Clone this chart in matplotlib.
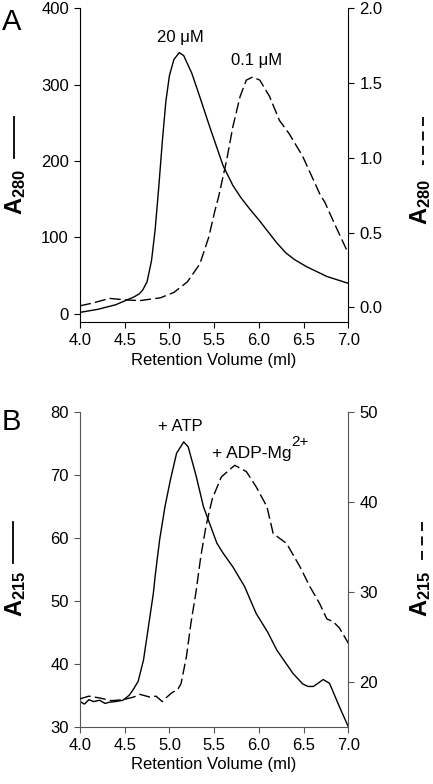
import matplotlib
matplotlib.use('Agg')
import matplotlib.pyplot as plt
from matplotlib.lines import Line2D

plt.rcParams['font.family'] = ['Liberation Sans', 'DejaVu Sans']
plt.rcParams['mathtext.fontset'] = 'custom'
plt.rcParams['mathtext.rm'] = 'Liberation Sans'
plt.rcParams['mathtext.bf'] = 'Liberation Sans:bold'
plt.rcParams['mathtext.it'] = 'Liberation Sans:italic'

# panel A, solid trace (20 uM, left axis)
a_solid_x = [4.0, 4.2, 4.4, 4.5, 4.6, 4.66, 4.70, 4.75, 4.80, 4.84, 4.88, 4.92, 4.96,
             5.00, 5.05, 5.11, 5.16, 5.25, 5.34, 5.45, 5.60, 5.71, 5.80, 5.90, 6.0, 6.1,
             6.2, 6.3, 6.4, 6.53, 6.76, 7.0]
a_solid_y = [2, 6, 12, 17, 22, 26, 31, 42, 70, 110, 165, 225, 278,
             312, 333, 342, 338, 315, 284, 245, 194, 168, 152, 137, 123, 108,
             93, 80, 71, 62, 49, 40]

# panel A, dashed trace (0.1 uM, right axis)
a_dash_x = [4.0, 4.15, 4.33, 4.5, 4.67, 4.9, 5.05, 5.2, 5.34, 5.44, 5.51, 5.55, 5.64, 5.71,
            5.79, 5.86, 5.93, 6.01, 6.12, 6.23, 6.34, 6.49, 6.68, 6.74, 6.83, 7.0]
a_dash_y = [0.01, 0.03, 0.06, 0.05, 0.045, 0.064, 0.10, 0.17, 0.29, 0.47, 0.65, 0.74, 0.985, 1.21,
            1.41, 1.52, 1.54, 1.52, 1.41, 1.25, 1.16, 1.01, 0.76, 0.70, 0.58, 0.36]

# panel B, solid trace (+ ATP, left axis)
b_solid_x = [4.0, 4.05, 4.1, 4.15, 4.22, 4.28, 4.33, 4.4, 4.48, 4.55, 4.59, 4.65, 4.71, 4.76,
             4.82, 4.84, 4.89, 4.95, 5.01, 5.08, 5.16, 5.21, 5.30, 5.38, 5.45, 5.53, 5.60,
             5.71, 5.84, 5.97, 6.1, 6.20, 6.38, 6.49, 6.55, 6.61, 6.67, 6.72, 6.79, 6.90, 7.0]
b_solid_y = [34.0, 33.6, 34.3, 34.0, 34.2, 33.7, 33.9, 34.0, 34.2, 35.0, 35.8, 37.2, 40.6, 45.4,
             51.2, 53.9, 59.7, 65.0, 69.2, 73.5, 75.3, 74.5, 69.8, 65.0, 62.3, 59.2, 57.6,
             55.4, 52.3, 48.0, 45.0, 42.2, 38.5, 36.8, 36.4, 36.4, 37.0, 37.5, 36.9, 33.2, 30.0]

# panel B, dashed trace (+ ADP-Mg2+, right axis)
b_dash_x = [4.0, 4.1, 4.22, 4.35, 4.48, 4.6, 4.67, 4.78, 4.85, 4.92, 4.96, 5.03, 5.09, 5.13,
            5.19, 5.24, 5.30, 5.35, 5.41, 5.48, 5.58, 5.73, 5.86, 5.97, 6.09, 6.16, 6.31,
            6.46, 6.57, 6.68, 6.76, 6.83, 6.90, 7.0]
b_dash_y = [18.1, 18.4, 18.2, 17.9, 18.0, 18.3, 18.6, 18.3, 18.4, 17.8, 18.2, 18.8, 19.1, 19.8,
            22.8, 26.5, 30.2, 33.9, 37.4, 40.4, 42.8, 44.1, 43.4, 41.7, 39.5, 36.5, 35.4,
            32.8, 30.6, 28.7, 27.0, 26.7, 26.0, 24.3]

x_ticks = [4.0, 4.5, 5.0, 5.5, 6.0, 6.5, 7.0]

fig = plt.figure(figsize=(4.33, 7.84), dpi=100)

W, H = 433.0, 784.0


def make_panel(bottom_px, top_px, left_lim, left_ticks, right_lim, right_ticks,
               sx, sy, dx, dy, spine_col):
    ax = fig.add_axes([80 / W, 1 - bottom_px / H, 268.3 / W, (bottom_px - top_px) / H])
    ax2 = ax.twinx()
    ax.plot(sx, sy, color='black', lw=1.0)
    ax2.plot(dx, dy, color='black', lw=1.0, dashes=(8, 3))
    ax.set_xlim(4.0, 7.0)
    ax.set_ylim(*left_lim)
    ax2.set_ylim(*right_lim)
    ax.set_xticks(x_ticks)
    ax.set_xticklabels(['%.1f' % t for t in x_ticks])
    ax.set_yticks(left_ticks)
    ax2.set_yticks(right_ticks)
    for a in (ax, ax2):
        a.spines['top'].set_visible(False)
        a.tick_params(direction='out', length=4, width=0.8, labelsize=12,
                      colors=spine_col, labelcolor='black', pad=4)
    ax.spines['right'].set_visible(False)
    ax2.spines['left'].set_visible(False)
    ax2.spines['bottom'].set_visible(False)
    ax.spines['left'].set_color(spine_col)
    ax.spines['bottom'].set_color(spine_col)
    ax2.spines['right'].set_color(spine_col)
    ax.set_xlabel('Retention Volume (ml)', fontsize=12, labelpad=3)
    return ax, ax2


axA, axA2 = make_panel(322.3, 8.3, (-11, 400), [0, 100, 200, 300, 400],
                       (-0.1, 2.0), [0.0, 0.5, 1.0, 1.5, 2.0],
                       a_solid_x, a_solid_y, a_dash_x, a_dash_y, 'black')
axA2.set_yticklabels(['0.0', '0.5', '1.0', '1.5', '2.0'])
axA.text(5.12, 352, '20 \u03bcM', ha='center', va='bottom', fontsize=12)
axA2.text(5.97, 1.6, '0.1 \u03bcM', ha='center', va='bottom', fontsize=12)

axB, axB2 = make_panel(726.7, 412.3, (30, 80), [30, 40, 50, 60, 70, 80],
                       (15, 50), [20, 30, 40, 50],
                       b_solid_x, b_solid_y, b_dash_x, b_dash_y, '#555555')
axB.text(5.12, 76.5, '+ ATP', ha='center', va='bottom', fontsize=12)
axB2.text(5.48, 44.9, '+ ADP-Mg', ha='left', va='baseline', fontsize=12.5)
axB2.text(6.36, 46.3, '2+', ha='left', va='baseline', fontsize=11)

# panel letters
fig.text(2 / W, 1 - 8 / H, 'A', fontsize=21, ha='left', va='top')
fig.text(2 / W, 1 - 408 / H, 'B', fontsize=21, ha='left', va='top')

# axis labels with line-style keys
def ylab(xpx, ypx, txt):
    fig.text(xpx / W, 1 - ypx / H, txt, rotation=90, ha='center', va='center',
             fontsize=17, fontweight='bold')

ylab(16, 192, r'$\mathbf{A_{280}}$')
ylab(421, 202, r'$\mathbf{A_{280}}$')
ylab(16, 594, r'$\mathbf{A_{215}}$')
ylab(421, 594, r'$\mathbf{A_{215}}$')

fig.add_artist(Line2D([14 / W, 14 / W], [1 - 117 / H, 1 - 158 / H], color='black', lw=1.3))
fig.add_artist(Line2D([423 / W, 423 / W], [1 - 117 / H, 1 - 165 / H], color='black', lw=1.3,
                      dashes=(5, 3)))
fig.add_artist(Line2D([13 / W, 13 / W], [1 - 522 / H, 1 - 563 / H], color='black', lw=1.3))
fig.add_artist(Line2D([422 / W, 422 / W], [1 - 522 / H, 1 - 563 / H], color='black', lw=1.3,
                      dashes=(5, 3)))

fig.savefig('out.png', dpi=100)
